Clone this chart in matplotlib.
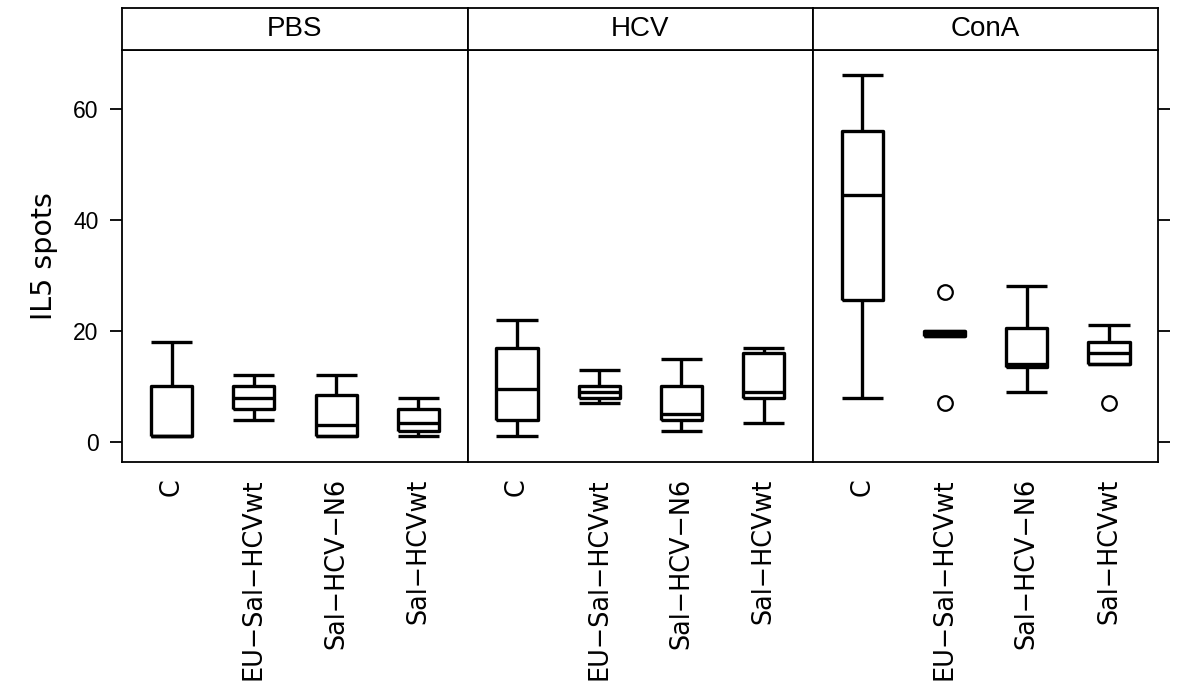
import matplotlib
matplotlib.use("Agg")
import matplotlib.pyplot as plt
from matplotlib.font_manager import FontProperties, findfont

# ---------------- data ----------------
panels = ["PBS", "HCV", "ConA"]
groups = ["C", "EU-Sal-HCVwt", "Sal-HCV-N6", "Sal-HCVwt"]
tick_labels = ["C", "EU\u2212Sal\u2212HCVwt", "Sal\u2212HCV\u2212N6", "Sal\u2212HCVwt"]

whisker_low = [[1, 4, 1, 1], [1, 7, 2, 3.5], [8, 19, 9, 14]]
q1 = [[1, 6, 1, 2], [4, 8, 4, 8], [25.5, 19, 13.5, 14]]
median = [[1, 8, 3, 3.5], [9.5, 9, 5, 9], [44.5, 19.5, 14, 16]]
q3 = [[10, 10, 8.5, 6], [17, 10, 10, 16], [56, 20, 20.5, 18]]
whisker_high = [[18, 12, 12, 8], [22, 13, 15, 17], [66, 20, 28, 21]]
outliers = [[[], [], [], []], [[], [], [], []], [[], [27, 7], [], [7]]]

y_ticks = [0, 20, 40, 60]
y_label = "IL5 spots"

# ---------------- fonts ----------------
try:
    findfont(FontProperties(family="Liberation Sans Narrow"), fallback_to_default=False)
    hfont = "Liberation Sans Narrow"
    strip_size, ytick_size = 21.5, 17
except Exception:
    hfont = "Liberation Sans"
    strip_size, ytick_size = 20, 16.5
rfont = "DejaVu Sans"

W, H = 1191, 690
fig = plt.figure(figsize=(W / 100, H / 100), dpi=100)

left_px, right_px = 122.3, 1158.3
top_px, bottom_px, strip_top_px = 50.0, 461.7, 8.3
pw = (right_px - left_px) / 3

lw_box = 2.4
lw_frame = 1.3

for i, name in enumerate(panels):
    x0 = (left_px + i * pw) / W
    ax = fig.add_axes([x0, 1 - bottom_px / H, pw / W, (bottom_px - top_px) / H])
    stats = []
    for j in range(len(groups)):
        stats.append(dict(whislo=whisker_low[i][j], q1=q1[i][j], med=median[i][j],
                          q3=q3[i][j], whishi=whisker_high[i][j],
                          fliers=outliers[i][j], label=tick_labels[j]))
    lp = dict(color="black", linewidth=lw_box, solid_capstyle="butt")
    ax.bxp(stats, positions=[1, 2, 3, 4], widths=0.5, capwidths=0.5,
           showfliers=True, boxprops=lp, whiskerprops=lp, capprops=lp,
           medianprops=lp,
           flierprops=dict(marker="o", markerfacecolor="none", markeredgecolor="black",
                           markersize=10.5, markeredgewidth=1.6, linestyle="none"))
    ax.set_xlim(0.4, 4.6)
    ax.set_ylim(-3.55, 70.55)
    for s in ax.spines.values():
        s.set_linewidth(lw_frame)
    ax.set_xticks([1, 2, 3, 4])
    ax.set_xticklabels(tick_labels, rotation=90, fontfamily=rfont, fontsize=18.4,
                       va="top", ha="center")
    ax.tick_params(axis="x", length=0, pad=12)
    ax.set_yticks(y_ticks)
    if i == 0:
        ax.tick_params(axis="y", left=True, right=False, labelleft=True,
                       length=8.6, width=lw_frame, pad=8.5)
        for t in ax.get_yticklabels():
            t.set_fontfamily(hfont)
            t.set_fontsize(ytick_size)
    elif i == 2:
        ax.tick_params(axis="y", left=False, right=True, labelleft=False,
                       labelright=False, length=8.6, width=lw_frame)
    else:
        ax.tick_params(axis="y", left=False, right=False, labelleft=False)

    sax = fig.add_axes([x0, 1 - top_px / H, pw / W, (top_px - strip_top_px) / H])
    sax.set_xticks([])
    sax.set_yticks([])
    for s in sax.spines.values():
        s.set_linewidth(lw_frame)
    sax.text(0.5, 0.5, name, ha="center", va="center", transform=sax.transAxes,
             fontfamily=hfont, fontsize=strip_size)

fig.text(43.5 / W, 1 - 255.8 / H, y_label, rotation=90, ha="center", va="center",
         fontfamily=rfont, fontsize=20.5)

fig.savefig("out.png", dpi=100)
